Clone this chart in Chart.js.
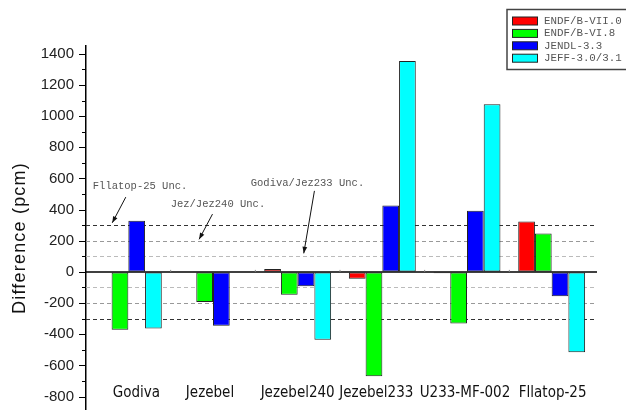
<!DOCTYPE html>
<html>
<head>
<meta charset="utf-8">
<script src="https://cdn.jsdelivr.net/npm/chart.js@4.4.0/dist/chart.umd.min.js"></script>
<style>
  html, body { margin: 0; padding: 0; background: #fff; overflow: hidden; }
  canvas { display: block; }
</style>
</head>
<body>
<canvas id="myChart" width="626" height="410"></canvas>
<script>
// benchmarks and libraries
const categories = ['Godiva', 'Jezebel', 'Jezebel240', 'Jezebel233', 'U233-MF-002', 'Fllatop-25']
const libraries = ['ENDF/B-VII.0', 'ENDF/B-VI.8', 'JENDL-3.3', 'JEFF-3.0/3.1']

// C/E differences in pcm
const endfb7 = [3, 0, 19, -44, -8, 324]
const endfb6 = [-372, -193, -146, -669, -332, 247]
const jendl33 = [328, -345, -92, 427, 392, -156]
const jeff3 = [-364, 0, -435, 1354, 1076, -515]

const colors = ['#ff0000', '#00ff00', '#0000ff', '#00ffff']

// y tick labels
const yTicks = [-800, -600, -400, -200, 0, 200, 400, 600, 800, 1000, 1200, 1400]

// uncertainty bands (pcm)
const uncLevels = [300, 200, 100]
const uncNotes = ['Fllatop-25 Unc.', 'Jez/Jez240 Unc.', 'Godiva/Jez233 Unc.']

const mono = '"Liberation Mono", "Courier New", monospace'

// extra drawing: uncertainty lines, zero line, ticks, labels, notes, legend
const decorations = {
    id: 'decorations',
    beforeDatasetsDraw(chart) {
        const {ctx, chartArea, scales: {x, y}} = chart
        ctx.save()
        // dashed uncertainty lines
        uncLevels.forEach((lvl, i) => {
            ctx.strokeStyle = i === 0 ? '#333' : (i === 1 ? '#999' : '#bbb')
            ctx.lineWidth = 1
            ctx.setLineDash([4, 3])
            ;[lvl, -lvl].forEach(v => {
                const py = Math.round(y.getPixelForValue(v)) + 0.5
                ctx.beginPath()
                ctx.moveTo(chartArea.left, py)
                ctx.lineTo(chartArea.right + 3, py)
                ctx.stroke()
            })
        })
        ctx.restore()
    },
    afterDatasetsDraw(chart) {
        const {ctx, chartArea, scales: {x, y}} = chart
        ctx.save()
        // zero line
        const y0 = y.getPixelForValue(0)
        ctx.strokeStyle = '#000'
        ctx.lineWidth = 1.5
        ctx.beginPath()
        ctx.moveTo(chartArea.left, y0)
        ctx.lineTo(chartArea.right + 3, y0)
        ctx.stroke()
        // category boundary ticks
        ctx.lineWidth = 1
        ctx.strokeStyle = '#888'
        for (let i = 0; i < categories.length - 1; i++) {
            const px = (x.getPixelForValue(i) + x.getPixelForValue(i + 1)) / 2
            ctx.beginPath()
            ctx.moveTo(px, y0 - 2)
            ctx.lineTo(px, y0)
            ctx.stroke()
        }
        // y ticks, major outward 7px, minor 4px
        ctx.strokeStyle = '#000'
        ctx.lineWidth = 1
        for (let v = -800; v <= 1400; v += 100) {
            const py = Math.round(y.getPixelForValue(v)) + 0.5
            const len = v % 200 === 0 ? 7 : 4
            ctx.beginPath()
            ctx.moveTo(chartArea.left - len, py)
            ctx.lineTo(chartArea.left, py)
            ctx.stroke()
        }
        // category labels near the bottom
        const labelShift = [8, -3, 0, -6, -2, 1]
        ctx.fillStyle = '#111'
        ctx.font = '15px Tahoma, "DejaVu Sans Condensed", "DejaVu Sans", sans-serif'
        ctx.textAlign = 'center'
        ctx.textBaseline = 'middle'
        categories.forEach((c, i) => {
            ctx.fillText(c, x.getPixelForValue(i) + labelShift[i], y.getPixelForValue(-775))
        })
        // axis title
        ctx.save()
        ctx.translate(20, 238)
        ctx.rotate(-Math.PI / 2)
        ctx.font = '18px "Liberation Sans", Arial, sans-serif'
        ctx.letterSpacing = '1.2px'
        ctx.fillStyle = '#111'
        ctx.fillText('Difference (pcm)', 0, 0)
        ctx.restore()
        // uncertainty notes with arrows (x in category units, y in pcm)
        const notes = [
            {text: uncNotes[0], tx: -0.42, ty: 551, from: [-0.03, 480], to: [-0.19, 315]},
            {text: uncNotes[1], tx: 0.50, ty: 435, from: [0.994, 371], to: [0.836, 209]},
            {text: uncNotes[2], tx: 1.446, ty: 568, from: [2.198, 520], to: [2.072, 119]},
        ]
        const cx = v => x.getPixelForValue(0) + v * (x.getPixelForValue(1) - x.getPixelForValue(0))
        ctx.font = '10.5px ' + mono
        ctx.textAlign = 'left'
        notes.forEach(n => {
            ctx.fillStyle = '#555'
            ctx.fillText(n.text, cx(n.tx), y.getPixelForValue(n.ty))
            const x1 = cx(n.from[0]), y1 = y.getPixelForValue(n.from[1])
            const x2 = cx(n.to[0]), y2 = y.getPixelForValue(n.to[1])
            ctx.strokeStyle = '#111'
            ctx.lineWidth = 1
            ctx.beginPath()
            ctx.moveTo(x1, y1)
            ctx.lineTo(x2, y2)
            ctx.stroke()
            const a = Math.atan2(y2 - y1, x2 - x1)
            ctx.fillStyle = '#111'
            ctx.beginPath()
            ctx.moveTo(x2, y2)
            ctx.lineTo(x2 - 7 * Math.cos(a - 0.35), y2 - 7 * Math.sin(a - 0.35))
            ctx.lineTo(x2 - 7 * Math.cos(a + 0.35), y2 - 7 * Math.sin(a + 0.35))
            ctx.closePath()
            ctx.fill()
        })
        // legend box
        const bx = 507, by = 9.5, bw = 130, bh = 60
        ctx.fillStyle = '#fff'
        ctx.fillRect(bx, by, bw, bh)
        ctx.strokeStyle = '#444'
        ctx.lineWidth = 1.5
        ctx.strokeRect(bx, by, bw, bh)
        ctx.font = '10.8px ' + mono
        ctx.textBaseline = 'middle'
        chart.data.datasets.forEach((ds, i) => {
            const ry = 21 + i * 12.4
            ctx.fillStyle = ds.backgroundColor
            ctx.fillRect(512.5, ry - 4, 25, 8)
            ctx.strokeStyle = '#222'
            ctx.lineWidth = 1
            ctx.strokeRect(512.5, ry - 4, 25, 8)
            ctx.fillStyle = '#555'
            ctx.fillText(ds.label, 544, ry)
        })
        ctx.restore()
    }
}

const renderChart = () => {
    const ctx = document.getElementById('myChart').getContext('2d')
    const series = [endfb7, endfb6, jendl33, jeff3]
    new Chart(ctx, {
        type: 'bar',
        data: {
            labels: categories,
            datasets: series.map((d, i) => ({
                label: libraries[i],
                data: d,
                backgroundColor: colors[i],
                borderColor: '#222',
                borderWidth: 1,
                borderSkipped: false,
                barPercentage: 1,
                categoryPercentage: 0.79,
            }))
        },
        options: {
            responsive: false,
            animation: false,
            layout: {padding: {top: 46, right: 32, bottom: 1, left: 0}},
            plugins: {
                legend: {display: false},
                tooltip: {enabled: false},
            },
            scales: {
                x: {
                    display: false,
                },
                y: {
                    min: -880,
                    max: 1450,
                    afterFit: scale => {
                        scale.width = 86
                        scale.paddingTop = 0
                        scale.paddingBottom = 0
                    },
                    afterBuildTicks: scale => {
                        scale.ticks = yTicks.map(v => ({value: v}))
                    },
                    ticks: {
                        padding: 12,
                        color: '#222',
                        font: {family: '"Liberation Sans", Arial, sans-serif', size: 15},
                        callback: v => String(v),
                    },
                    grid: {drawOnChartArea: false, drawTicks: false},
                    border: {display: true, color: '#000', width: 1.5},
                }
            }
        },
        plugins: [decorations],
    })
}

renderChart()
</script>
</body>
</html>
